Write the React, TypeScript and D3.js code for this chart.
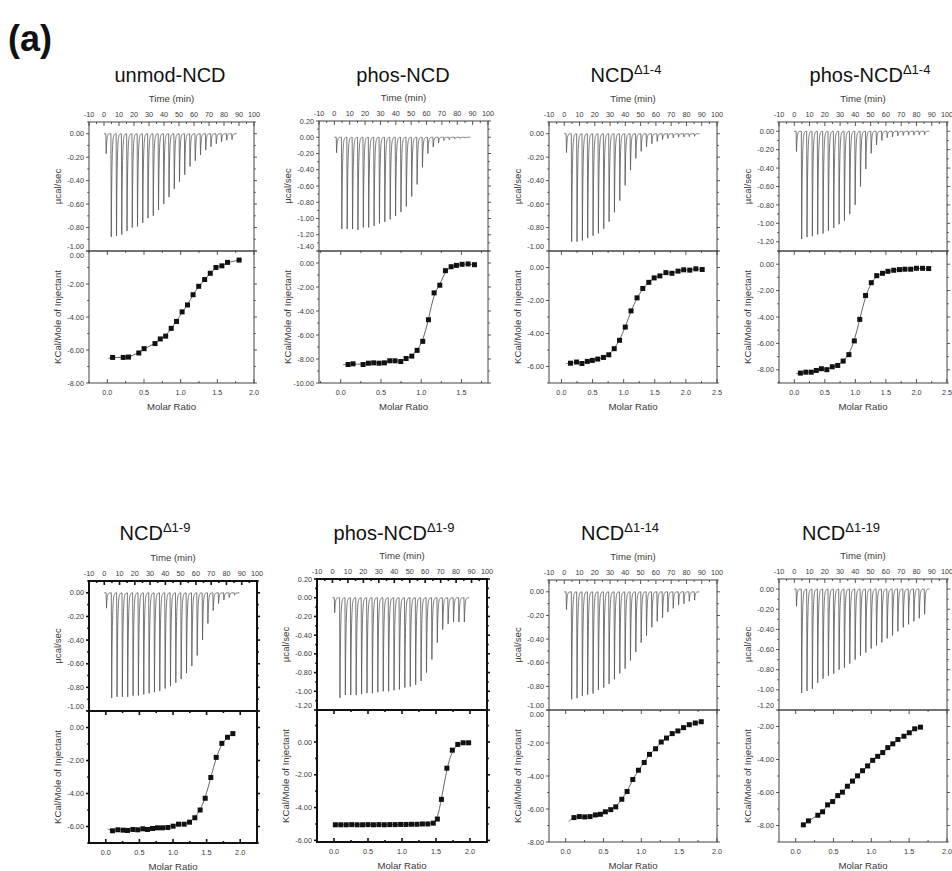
import React from 'react';
import * as d3 from 'd3';

// ---------- data ----------
const injTimes = [1.2, 4.6, 8.1, 11.6, 15.1, 18.6, 22.1, 25.6, 29.1, 32.6, 36.1, 39.6, 43.1, 46.6, 50.1, 53.6, 57.1, 60.6, 64.1, 67.6, 71.1, 74.6, 78.1, 81.6, 85.1];
const timeTicks = [-10, 0, 10, 20, 30, 40, 50, 60, 70, 80, 90, 100];

const titleBase = ['unmod-NCD', 'phos-NCD', 'NCD', 'phos-NCD', 'NCD', 'phos-NCD', 'NCD', 'NCD'];
const titleSup = ['', '', 'Δ1-4', 'Δ1-4', 'Δ1-9', 'Δ1-9', 'Δ1-14', 'Δ1-19'];

const peaks1 = [-0.17, -0.88, -0.87, -0.86, -0.83, -0.80, -0.79, -0.76, -0.72, -0.70, -0.65, -0.60, -0.54, -0.47, -0.41, -0.35, -0.28, -0.23, -0.18, -0.14, -0.11, -0.085, -0.07, -0.055, -0.05];
const peaks2 = [-0.19, -1.13, -1.13, -1.13, -1.14, -1.11, -1.11, -1.09, -1.06, -1.04, -1.01, -0.97, -0.92, -0.85, -0.73, -0.58, -0.37, -0.20, -0.12, -0.07, -0.04, -0.03, -0.02, -0.015, -0.01];
const peaks3 = [-0.16, -0.92, -0.92, -0.91, -0.89, -0.87, -0.85, -0.81, -0.75, -0.67, -0.57, -0.44, -0.31, -0.21, -0.15, -0.11, -0.085, -0.065, -0.05, -0.04, -0.035, -0.03, -0.028, -0.025, -0.022];
const peaks4 = [-0.22, -1.17, -1.15, -1.14, -1.12, -1.11, -1.08, -1.05, -1.01, -0.97, -0.90, -0.80, -0.60, -0.41, -0.24, -0.15, -0.10, -0.07, -0.06, -0.05, -0.045, -0.043, -0.043, -0.04, -0.04];
const peaks5 = [-0.13, -0.89, -0.88, -0.88, -0.88, -0.87, -0.87, -0.86, -0.85, -0.84, -0.83, -0.81, -0.79, -0.76, -0.73, -0.68, -0.62, -0.53, -0.40, -0.26, -0.15, -0.09, -0.06, -0.04, -0.02];
const peaks6 = [-0.16, -1.07, -1.04, -1.04, -1.04, -1.03, -1.02, -1.02, -1.01, -1.00, -1.00, -0.99, -0.98, -0.96, -0.95, -0.93, -0.89, -0.80, -0.66, -0.48, -0.34, -0.28, -0.26, -0.26, -0.26];
const peaks7 = [-0.15, -0.91, -0.90, -0.88, -0.87, -0.86, -0.83, -0.81, -0.78, -0.74, -0.69, -0.65, -0.58, -0.51, -0.43, -0.37, -0.30, -0.25, -0.22, -0.17, -0.14, -0.11, -0.10, -0.08, -0.07];
const peaks8 = [-0.17, -1.03, -1.01, -0.99, -0.93, -0.89, -0.86, -0.84, -0.80, -0.78, -0.74, -0.70, -0.66, -0.63, -0.59, -0.56, -0.53, -0.49, -0.46, -0.42, -0.38, -0.35, -0.32, -0.29, -0.25];

const ratio1 = [0.072, 0.217, 0.289, 0.429, 0.501, 0.650, 0.722, 0.795, 0.871, 0.944, 1.020, 1.093, 1.169, 1.246, 1.327, 1.404, 1.481, 1.562, 1.639, 1.797];
const heat1 = [-6.45, -6.45, -6.43, -6.18, -5.92, -5.61, -5.33, -5.16, -4.69, -4.27, -3.69, -3.27, -2.65, -2.14, -1.73, -1.35, -1.00, -0.90, -0.69, -0.55];
const ratio2 = [0.091, 0.153, 0.278, 0.344, 0.410, 0.477, 0.543, 0.609, 0.675, 0.746, 0.812, 0.883, 0.949, 1.019, 1.090, 1.160, 1.231, 1.301, 1.372, 1.438, 1.508, 1.583, 1.662];
const heat2 = [-8.46, -8.40, -8.46, -8.35, -8.32, -8.35, -8.32, -8.15, -8.15, -8.21, -7.96, -7.76, -7.28, -6.53, -4.73, -2.49, -1.85, -0.64, -0.31, -0.20, -0.11, -0.08, -0.14];
const ratio3 = [0.146, 0.243, 0.329, 0.416, 0.497, 0.583, 0.675, 0.761, 0.848, 0.934, 1.026, 1.118, 1.215, 1.307, 1.404, 1.490, 1.582, 1.679, 1.776, 1.874, 1.965, 2.063, 2.160, 2.262];
const heat3 = [-5.80, -5.73, -5.82, -5.69, -5.63, -5.55, -5.45, -5.29, -4.92, -4.41, -3.61, -2.63, -1.84, -1.27, -0.90, -0.63, -0.51, -0.31, -0.35, -0.22, -0.14, -0.16, -0.08, -0.12];
const ratio4 = [0.100, 0.189, 0.278, 0.361, 0.444, 0.533, 0.622, 0.711, 0.800, 0.894, 0.983, 1.072, 1.167, 1.261, 1.350, 1.444, 1.533, 1.628, 1.722, 1.811, 1.906, 2.000, 2.100, 2.200];
const heat4 = [-8.25, -8.18, -8.18, -8.05, -7.92, -7.99, -7.77, -7.67, -7.34, -6.85, -5.81, -4.18, -2.37, -1.40, -0.87, -0.69, -0.54, -0.46, -0.41, -0.38, -0.38, -0.31, -0.31, -0.33];
const ratio5 = [0.099, 0.179, 0.258, 0.323, 0.402, 0.476, 0.552, 0.620, 0.695, 0.769, 0.844, 0.923, 1.002, 1.082, 1.166, 1.246, 1.325, 1.404, 1.479, 1.563, 1.643, 1.727, 1.811, 1.891];
const heat5 = [-6.26, -6.20, -6.22, -6.24, -6.18, -6.20, -6.14, -6.18, -6.12, -6.08, -6.08, -6.06, -5.98, -5.86, -5.86, -5.74, -5.47, -5.00, -4.29, -3.03, -1.81, -0.96, -0.59, -0.37];
const ratio6 = [0.02, 0.10, 0.18, 0.26, 0.34, 0.42, 0.50, 0.58, 0.66, 0.74, 0.82, 0.90, 0.98, 1.06, 1.14, 1.22, 1.30, 1.38, 1.46, 1.52, 1.58, 1.66, 1.74, 1.82, 1.90, 1.98];
const heat6 = [-5.05, -5.05, -5.05, -5.04, -5.05, -5.05, -5.04, -5.05, -5.04, -5.05, -5.04, -5.04, -5.03, -5.03, -5.02, -5.02, -5.0, -5.0, -4.95, -4.7, -3.5, -1.6, -0.5, -0.15, -0.05, -0.05];
const ratio7 = [0.110, 0.181, 0.252, 0.322, 0.393, 0.459, 0.525, 0.596, 0.662, 0.742, 0.812, 0.887, 0.962, 1.038, 1.108, 1.188, 1.263, 1.333, 1.408, 1.483, 1.558, 1.634, 1.713, 1.792];
const heat7 = [-6.52, -6.46, -6.48, -6.46, -6.36, -6.32, -6.17, -6.04, -5.87, -5.41, -4.94, -4.21, -3.65, -3.18, -2.69, -2.35, -1.94, -1.70, -1.43, -1.27, -1.07, -0.89, -0.79, -0.71];
const ratio8 = [0.102, 0.169, 0.293, 0.356, 0.422, 0.489, 0.556, 0.618, 0.684, 0.751, 0.818, 0.884, 0.951, 1.018, 1.084, 1.151, 1.218, 1.284, 1.351, 1.431, 1.502, 1.573, 1.649];
const heat8 = [-7.96, -7.72, -7.38, -7.17, -6.75, -6.55, -6.19, -5.98, -5.62, -5.31, -4.99, -4.68, -4.39, -4.05, -3.81, -3.58, -3.28, -3.05, -2.79, -2.59, -2.38, -2.14, -2.04];

const fitStarts: [number, number][] = [[0.014, -6.5], [0.03, -8.46], [0.08, -5.82], [0.03, -8.28], [0.03, -6.16], [0.0, -5.05], [0.04, -6.74], [0.07, -8.05]];

const topDomains: [number, number][] = [[-1.0, 0.1], [-1.4, 0.2], [-1.0, 0.1], [-1.3, 0.1], [-1.0, 0.1], [-1.2, 0.2], [-1.0, 0.1], [-1.2, 0.1]];
const botDomains: [number, number][] = [[-8, 0], [-10, 1], [-7, 1], [-9, 1], [-7, 1], [-6.1, 1.95], [-8, 0], [-9, -1]];
const molDomains: [number, number][] = [[-0.25, 2.0], [-0.27, 1.83], [-0.2, 2.5], [-0.25, 2.5], [-0.25, 2.25], [-0.25, 2.25], [-0.22, 2.0], [-0.22, 2.0]];

const allPeaks = [peaks1, peaks2, peaks3, peaks4, peaks5, peaks6, peaks7, peaks8];
const allRatio = [ratio1, ratio2, ratio3, ratio4, ratio5, ratio6, ratio7, ratio8];
const allHeat = [heat1, heat2, heat3, heat4, heat5, heat6, heat7, heat8];

// ---------- layout ----------
const frames = [
  { x0: 89, x1: 254, yTop: 122, yMid: 251, yBot: 383, tx: 170, ty: 82, bold: false },
  { x0: 319, x1: 488, yTop: 121, yMid: 251, yBot: 383, tx: 403, ty: 82, bold: false },
  { x0: 549, x1: 717, yTop: 122, yMid: 251, yBot: 383, tx: 626, ty: 82, bold: false },
  { x0: 779, x1: 947, yTop: 122, yMid: 251, yBot: 383, tx: 870, ty: 82, bold: false },
  { x0: 89, x1: 257, yTop: 581, yMid: 711, yBot: 843, tx: 155, ty: 540, bold: true },
  { x0: 317, x1: 487, yTop: 579, yMid: 710, yBot: 842, tx: 394, ty: 540, bold: true },
  { x0: 549, x1: 717, yTop: 580, yMid: 710, yBot: 842, tx: 620, ty: 540, bold: false },
  { x0: 779, x1: 947, yTop: 579, yMid: 710, yBot: 842, tx: 841, ty: 540, bold: false },
];

const FONT = '"Liberation Sans", Arial, sans-serif';
const TXT = '#3a3a3a';
const TICK_FS = 7.3;
const LAB_FS = 9.6;

function rangeStep(lo: number, hi: number, step: number) {
  const out: number[] = [];
  const a = Math.ceil(lo / step - 1e-6);
  const b = Math.floor(hi / step + 1e-6);
  for (let k = a; k <= b; k++) out.push(+(k * step).toFixed(6));
  return out;
}
function f2(v: number) { return (Math.abs(v) < 1e-9 ? 0 : v).toFixed(2); }

function Panel({ i }: { i: number }) {
  const fr = frames[i];
  const { x0, x1, yTop, yMid, yBot, bold } = fr;
  const peaks = allPeaks[i];
  const ratio = allRatio[i];
  const heat = allHeat[i];
  const xt = d3.scaleLinear().domain([-10, 100]).range([x0, x1]);
  const yt = d3.scaleLinear().domain(topDomains[i]).range([yMid, yTop]);
  const xm = d3.scaleLinear().domain(molDomains[i]).range([x0, x1]);
  const yb = d3.scaleLinear().domain(botDomains[i]).range([yBot, yMid]);

  const frameColor = bold ? '#111' : '#444';
  const fw = bold ? 2 : 1;
  const tw = bold ? 1.6 : 0.9;

  // thermogram trace built from peak heights
  const pts: [number, number][] = [[0, 0]];
  injTimes.forEach((t, k) => {
    const pk = peaks[k];
    const next = k < injTimes.length - 1 ? injTimes[k + 1] : 88.5;
    pts.push([t, 0]);
    pts.push([t + 0.25, pk]);
    for (let s = 0.08; t + 0.25 + s < next - 0.05; s += 0.08) pts.push([t + 0.25 + s, pk * Math.exp(-s / 0.42)]);
  });
  pts.push([88.5, 0]);
  const trace = d3.line<[number, number]>().x(d => xt(d[0])).y(d => yt(d[1]))(pts) || '';

  const fitPts: [number, number][] = [fitStarts[i], ...ratio.map((r, k) => [r, heat[k]] as [number, number])];
  const fit = d3.line<[number, number]>().x(d => xm(d[0])).y(d => yb(d[1])).curve(d3.curveBasis)(fitPts) || '';

  const tMaj = timeTicks;
  const tMin = rangeStep(-10, 100, 5).filter(v => v % 10 !== 0);
  const mMaj = rangeStep(molDomains[i][0], molDomains[i][1], 0.5);
  const mMin = rangeStep(molDomains[i][0], molDomains[i][1], 0.25).filter(v => Math.abs(v / 0.5 - Math.round(v / 0.5)) > 1e-6);
  const ytMaj = rangeStep(topDomains[i][0], topDomains[i][1], 0.2);
  const ytMin = rangeStep(topDomains[i][0], topDomains[i][1], 0.1).filter(v => Math.abs(v / 0.2 - Math.round(v / 0.2)) > 1e-6);
  const ybMaj = rangeStep(botDomains[i][0], botDomains[i][1], 2);
  const ybMin = rangeStep(botDomains[i][0], botDomains[i][1], 1).filter(v => Math.abs(v / 2 - Math.round(v / 2)) > 1e-6);

  // labels sitting on the shared boundary are nudged apart
  const nudgeTop = (v: number) => (Math.abs(yt(v) - yMid) < 1 ? -4.2 : 0);
  const nudgeBot = (v: number) => (Math.abs(yb(v) - yMid) < 1 ? 4.2 : 0);

  const ticks: React.ReactNode[] = [];
  tMaj.forEach((v, k) => {
    ticks.push(<line key={'tt' + k} x1={xt(v)} x2={xt(v)} y1={yTop} y2={yTop + 4} />);
  });
  tMin.forEach((v, k) => {
    ticks.push(<line key={'tm' + k} x1={xt(v)} x2={xt(v)} y1={yTop} y2={yTop + 2} />);
  });
  mMaj.forEach((v, k) => {
    ticks.push(<line key={'mb' + k} x1={xm(v)} x2={xm(v)} y1={yMid} y2={yMid + 4} />);
    ticks.push(<line key={'mB' + k} x1={xm(v)} x2={xm(v)} y1={yBot} y2={yBot - 4} />);
  });
  mMin.forEach((v, k) => {
    ticks.push(<line key={'nb' + k} x1={xm(v)} x2={xm(v)} y1={yMid} y2={yMid + 2} />);
    ticks.push(<line key={'nB' + k} x1={xm(v)} x2={xm(v)} y1={yBot} y2={yBot - 2} />);
  });
  ytMaj.forEach((v, k) => {
    ticks.push(<line key={'ya' + k} x1={x0 - 3} x2={x0} y1={yt(v)} y2={yt(v)} />);
    ticks.push(<line key={'yA' + k} x1={x1} x2={x1 + 3} y1={yt(v)} y2={yt(v)} />);
  });
  ytMin.forEach((v, k) => {
    ticks.push(<line key={'yb' + k} x1={x0 - 1.8} x2={x0} y1={yt(v)} y2={yt(v)} />);
    ticks.push(<line key={'yB' + k} x1={x1} x2={x1 + 1.8} y1={yt(v)} y2={yt(v)} />);
  });
  ybMaj.forEach((v, k) => {
    ticks.push(<line key={'za' + k} x1={x0 - 3} x2={x0} y1={yb(v)} y2={yb(v)} />);
    ticks.push(<line key={'zA' + k} x1={x1} x2={x1 + 3} y1={yb(v)} y2={yb(v)} />);
  });
  ybMin.forEach((v, k) => {
    ticks.push(<line key={'zb' + k} x1={x0 - 1.8} x2={x0} y1={yb(v)} y2={yb(v)} />);
    ticks.push(<line key={'zB' + k} x1={x1} x2={x1 + 1.8} y1={yb(v)} y2={yb(v)} />);
  });

  const sq = 5;
  return (
    <g fontFamily={FONT}>
      <text x={fr.tx} y={fr.ty} textAnchor="middle" fontSize={20} fill="#111">
        {titleBase[i]}
        {titleSup[i] ? <tspan fontSize={13} dy={-8}>{titleSup[i]}</tspan> : null}
      </text>
      {/* top panel */}
      <text x={(x0 + x1) / 2} y={yTop - 20} textAnchor="middle" fontSize={LAB_FS} fill={TXT}>Time (min)</text>
      {tMaj.map((v, k) => (
        <text key={'tl' + k} x={xt(v)} y={yTop - 5.5} textAnchor="middle" fontSize={TICK_FS} fill={TXT}>{v}</text>
      ))}
      {ytMaj.map((v, k) => (
        <text key={'yl' + k} x={x0 - 5} y={yt(v) + 2.6 + nudgeTop(v)} textAnchor="end" fontSize={TICK_FS} fill={TXT}>{f2(v)}</text>
      ))}
      <text transform={`translate(${x0 - 28},${(yTop + yMid) / 2}) rotate(-90)`} textAnchor="middle" fontSize={LAB_FS} fill={TXT}>µcal/sec</text>
      <path d={trace} fill="none" stroke="#555" strokeWidth={0.8} />
      {/* bottom panel */}
      {ybMaj.map((v, k) => (
        <text key={'bl' + k} x={x0 - 5} y={yb(v) + 2.6 + nudgeBot(v)} textAnchor="end" fontSize={TICK_FS} fill={TXT}>{f2(v)}</text>
      ))}
      {mMaj.map((v, k) => (
        <text key={'ml' + k} x={xm(v)} y={yBot + 11.5} textAnchor="middle" fontSize={TICK_FS} fill={TXT}>{v.toFixed(1)}</text>
      ))}
      <text x={(x0 + x1) / 2} y={yBot + 27} textAnchor="middle" fontSize={LAB_FS} fill={TXT}>Molar Ratio</text>
      <text transform={`translate(${x0 - 28},${(yMid + yBot) / 2}) rotate(-90)`} textAnchor="middle" fontSize={LAB_FS} fill={TXT}>KCal/Mole of Injectant</text>
      <path d={fit} fill="none" stroke="#555" strokeWidth={0.9} />
      {ratio.map((r, k) => (
        <rect key={'p' + k} x={xm(r) - sq / 2} y={yb(heat[k]) - sq / 2} width={sq} height={sq} fill="#111" />
      ))}
      {/* frames */}
      <rect x={x0} y={yTop} width={x1 - x0} height={yMid - yTop} fill="none" stroke={frameColor} strokeWidth={fw} />
      <rect x={x0} y={yMid} width={x1 - x0} height={yBot - yMid} fill="none" stroke={frameColor} strokeWidth={fw} />
      <g stroke={frameColor} strokeWidth={tw}>{ticks}</g>
    </g>
  );
}

export default function App() {
  return (
    <div style={{ position: 'absolute', left: 0, top: 0 }}>
      <svg width={952} height={871} style={{ display: 'block', background: '#fff' }}>
        <rect x={0} y={0} width={952} height={871} fill="#fff" />
        <text x={8} y={51} fontFamily={FONT} fontWeight="bold" fontSize={36} fill="#111">(a)</text>
        {frames.map((_, i) => <Panel key={i} i={i} />)}
      </svg>
    </div>
  );
}
